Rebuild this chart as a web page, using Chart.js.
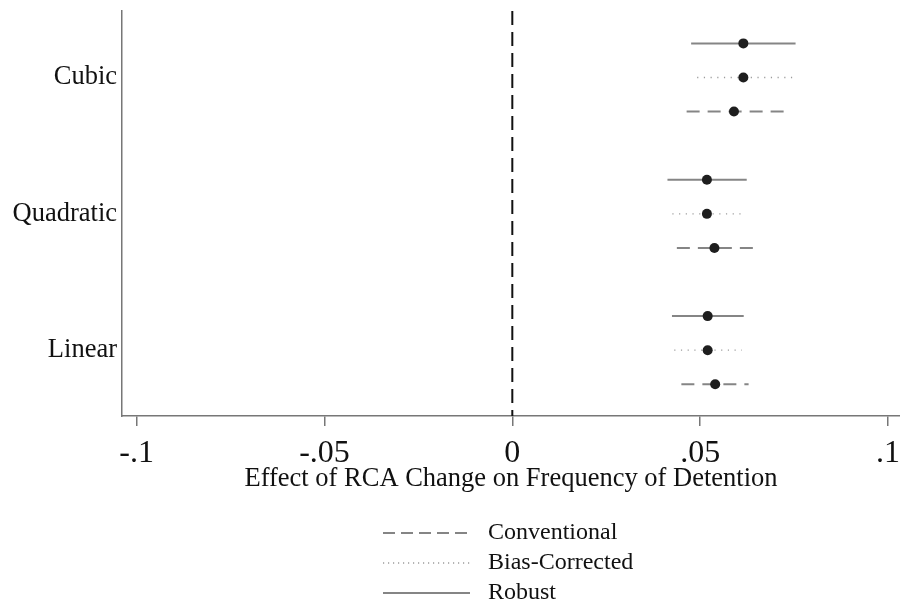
<!DOCTYPE html>
<html><head><meta charset="utf-8">
<script src="https://cdn.jsdelivr.net/npm/chart.js@4.4.1/dist/chart.umd.min.js"></script>
<style>html,body{margin:0;padding:0;background:#fff;overflow:hidden;width:900px;height:615px}#c{display:block}</style>
</head><body>
<canvas id="c" width="905" height="615"></canvas>
<script>
// ---- data ----
const categories = ['Cubic', 'Quadratic', 'Linear'];
const seriesNames = ['Conventional', 'Bias-Corrected', 'Robust'];

const conventionalEst = [0.0590, 0.0538, 0.0540];
const conventionalLo  = [0.0464, 0.0438, 0.0450];
const conventionalHi  = [0.0723, 0.0642, 0.0629];

const biasCorrectedEst = [0.0615, 0.0518, 0.0520];
const biasCorrectedLo  = [0.0492, 0.0426, 0.0431];
const biasCorrectedHi  = [0.0750, 0.0622, 0.0611];

const robustEst = [0.0615, 0.0518, 0.0520];
const robustLo  = [0.0476, 0.0413, 0.0425];
const robustHi  = [0.0754, 0.0624, 0.0616];

const xTickValues = [-0.1, -0.05, 0, 0.05, 0.1];
const xTickLabels = ['-.1', '-.05', '0', '.05', '.1'];
const xTitle = 'Effect of RCA Change on Frequency of Detention';

// ---- build ----
const FONT = "'Liberation Serif','Times New Roman',serif";
const Y_MIN = 0.05, Y_MAX = 11.93;
const rowOffset = {'Conventional': 1, 'Bias-Corrected': 0, 'Robust': -1};
const styles = {
  'Conventional':   {color: '#858585', width: 2,   dash: [13, 8]},
  'Bias-Corrected': {color: '#9c9c9c', width: 1.3, dash: [1.2, 5.5]},
  'Robust':         {color: '#858585', width: 2,   dash: []}
};
const seriesData = {
  'Conventional':   {est: conventionalEst, lo: conventionalLo, hi: conventionalHi},
  'Bias-Corrected': {est: biasCorrectedEst, lo: biasCorrectedLo, hi: biasCorrectedHi},
  'Robust':         {est: robustEst, lo: robustLo, hi: robustHi}
};
const rowY = (ci, name) => ci * 4 + 2 + rowOffset[name];

const datasets = [];
// zero reference line
datasets.push({
  type: 'line', label: 'zero', data: [{x: 0, y: Y_MIN}, {x: 0, y: Y_MAX}],
  borderColor: '#111', borderWidth: 2, borderDash: [14, 7], pointRadius: 0, order: 2, clip: false
});
seriesNames.forEach(name => {
  const d = seriesData[name], st = styles[name];
  categories.forEach((cat, ci) => {
    datasets.push({
      type: 'line', label: name + ' CI ' + cat,
      data: [{x: d.lo[ci], y: rowY(ci, name)}, {x: d.hi[ci], y: rowY(ci, name)}],
      borderColor: st.color, borderWidth: st.width, borderDash: st.dash,
      pointRadius: 0, order: 1, clip: false
    });
  });
  datasets.push({
    type: 'scatter', label: name,
    data: categories.map((cat, ci) => ({x: d.est[ci], y: rowY(ci, name)})),
    backgroundColor: '#1e1e1e', borderColor: '#1e1e1e', pointRadius: 5, pointBorderWidth: 0,
    order: 0, clip: false
  });
});

const legendPlugin = {
  id: 'customLegend',
  afterDraw(chart) {
    const ctx = chart.ctx;
    const rows = [533, 563, 593];
    ctx.save();
    seriesNames.forEach((name, i) => {
      const st = styles[name];
      const y = rows[i];
      ctx.beginPath();
      ctx.strokeStyle = st.color;
      ctx.lineWidth = st.width;
      ctx.setLineDash(name === 'Conventional' ? [12, 6] : (name === 'Bias-Corrected' ? [1.2, 3.8] : []));
      ctx.moveTo(383, y);
      ctx.lineTo(470, y);
      ctx.stroke();
      ctx.setLineDash([]);
      ctx.fillStyle = '#111';
      ctx.font = '24px ' + FONT;
      ctx.textAlign = 'left';
      ctx.textBaseline = 'middle';
      ctx.fillText(name, 488, y);
    });
    ctx.restore();
  }
};

new Chart(document.getElementById('c'), {
  type: 'scatter',
  data: {datasets},
  options: {
    responsive: false,
    animation: false,
    layout: {padding: {top: 11, right: 0, bottom: 0, left: 0}},
    plugins: {legend: {display: false}, tooltip: {enabled: false}},
    scales: {
      x: {
        type: 'linear', min: -0.1039, max: 0.1032,
        afterBuildTicks(scale) { scale.ticks = xTickValues.map(v => ({value: v})); },
        afterFit(scale) { scale.height = 199; scale.paddingLeft = 0; scale.paddingRight = 0; },
        ticks: {
          callback: (v, i) => xTickLabels[i],
          font: {family: FONT, size: 32}, color: '#111', padding: 8, maxRotation: 0, autoSkip: false
        },
        grid: {display: true, drawOnChartArea: false, drawTicks: true, tickLength: 10, color: '#777', lineWidth: 1.5},
        border: {display: true, color: '#777', width: 1.5},
        title: {display: true, text: xTitle, font: {family: FONT, size: 26.5}, color: '#111', padding: {top: 0, bottom: 120}}
      },
      y: {
        type: 'linear', reverse: true, min: Y_MIN, max: Y_MAX,
        afterBuildTicks(scale) { scale.ticks = categories.map((c, i) => ({value: i * 4 + 2})); },
        afterFit(scale) { scale.width = 122; scale.paddingTop = 0; scale.paddingBottom = 0; },
        ticks: {
          callback: (v) => categories[Math.round((v - 2) / 4)],
          font: {family: FONT, size: 26.5}, color: '#111', padding: 5, autoSkip: false
        },
        grid: {display: false, drawTicks: false},
        border: {display: true, color: '#777', width: 1.5}
      }
    }
  },
  plugins: [legendPlugin]
});
</script>
</body></html>
